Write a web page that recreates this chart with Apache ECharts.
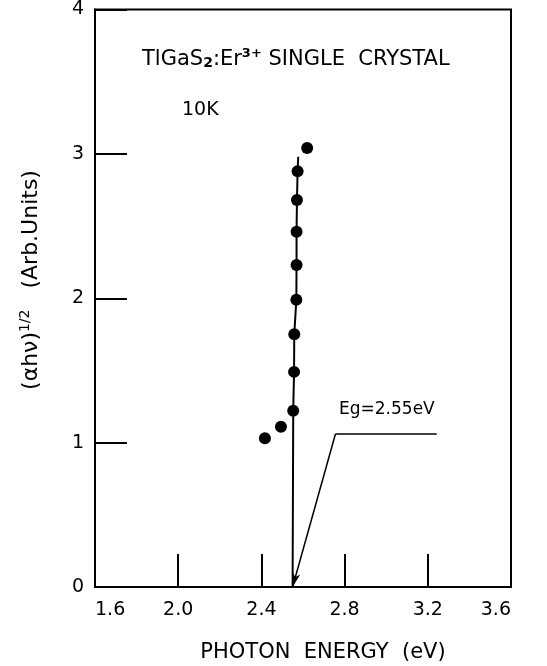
<!DOCTYPE html>
<html><head><meta charset="utf-8">
<script src="https://cdn.jsdelivr.net/npm/echarts@6/dist/echarts.min.js"></script>
<style>html,body{margin:0;padding:0;background:#fff}#c{width:547px;height:666px}</style>
</head><body><div id="c"></div>
<script>
// Data
const energy = [2.417, 2.494, 2.553, 2.557, 2.558, 2.568, 2.569, 2.569, 2.571, 2.574, 2.62];
const sqrtAbs = [1.03, 1.11, 1.22, 1.49, 1.75, 1.99, 2.23, 2.46, 2.68, 2.88, 3.04];
const fitX = [2.55, 2.553, 2.557, 2.558, 2.568, 2.569, 2.569, 2.571, 2.574, 2.577];
const fitY = [0, 1.22, 1.49, 1.75, 1.99, 2.23, 2.46, 2.68, 2.88, 2.98];
const egLeaderX = [3.243, 2.756, 2.55];
const egLeaderY = [1.06, 1.06, 0];
const xTicks = [1.6, 2.0, 2.4, 2.8, 3.2, 3.6];
const yTicks = [0, 1, 2, 3, 4];

const font = 'DejaVu Sans';
const chart = echarts.init(document.getElementById('c'));
chart.setOption({
  animation: false,
  grid: {left: 95, right: 36, top: 8, bottom: 79, show: true, borderColor: '#000', borderWidth: 2},
  xAxis: {
    type: 'value', min: xTicks[0], max: xTicks[xTicks.length-1], interval: 0.4,
    axisLine: {show: true, lineStyle: {color: '#000', width: 2}},
    axisTick: {show: true, inside: true, length: 33, lineStyle: {color: '#000', width: 2}},
    axisLabel: {color: '#000', fontFamily: font, fontSize: 19, margin: 14, formatter: v => v.toFixed(1),
      alignMinLabel: 'left', alignMaxLabel: 'right'},
    splitLine: {show: false}
  },
  yAxis: {
    type: 'value', min: yTicks[0], max: yTicks[yTicks.length-1], interval: 1,
    axisLine: {show: true, lineStyle: {color: '#000', width: 2}},
    axisTick: {show: true, inside: true, length: 32, lineStyle: {color: '#000', width: 2}},
    axisLabel: {color: '#000', fontFamily: font, fontSize: 19, margin: 11},
    splitLine: {show: false}
  },
  series: [
    {type: 'line', data: fitX.map((x,i)=>[x, fitY[i]]), symbol: 'none',
     lineStyle: {color: '#000', width: 2}, z: 2},
    {type: 'line', data: egLeaderX.slice(0,2).map((x,i)=>[x, egLeaderY[i]]), symbol: 'none',
     lineStyle: {color: '#000', width: 1.5}, z: 2,
     markLine: {silent: true, symbol: ['none', 'arrow'], symbolSize: [6, 14],
       lineStyle: {color: '#000', width: 1.5, type: 'solid'}, label: {show: false},
       data: [[{coord: [egLeaderX[1], egLeaderY[1]]}, {coord: [egLeaderX[2], egLeaderY[2]]}]]}},
    {type: 'scatter', data: energy.map((x,i)=>[x, sqrtAbs[i]]), symbol: 'circle', symbolSize: 12,
     itemStyle: {color: '#000', opacity: 1}, z: 3}
  ],
  graphic: [
    {type: 'text', left: 142, top: 47, style: {
      text: '{a|TlGaS}{sb|2}{a|:Er}{sp|3+}{a| SINGLE  CRYSTAL}',
      rich: {
        a: {fontFamily: font, fontSize: 21, fill: '#000'},
        sb: {fontFamily: font, fontSize: 14, fontWeight: 'bold', fill: '#000', padding: [7,0,0,0]},
        sp: {fontFamily: font, fontSize: 13, fontWeight: 'bold', fill: '#000', padding: [0,0,12,0]}
      }}},
    {type: 'text', left: 182, top: 101, style: {text: '10K', fontFamily: font, fontSize: 19, fill: '#000'}},
    {type: 'text', left: 339, top: 401, style: {text: 'Eg=2.55eV', fontFamily: font, fontSize: 17, fill: '#000'}},
    {type: 'text', x: 323, y: 653, style: {text: 'PHOTON  ENERGY  (eV)', fontFamily: font, fontSize: 21, fill: '#000', align: 'center', verticalAlign: 'middle'}},
    {type: 'text', x: 31, y: 280, rotation: Math.PI/2, style: {
      text: '{a|(\u03b1h\u03bd)}{sp|1/2}{a|   (Arb.Units)}', align: 'center', verticalAlign: 'middle',
      rich: {
        a: {fontFamily: font, fontSize: 22, fill: '#000'},
        sp: {fontFamily: font, fontSize: 14, fill: '#000', padding: [0,0,12,0]}
      }}}
  ]
});
</script></body></html>
